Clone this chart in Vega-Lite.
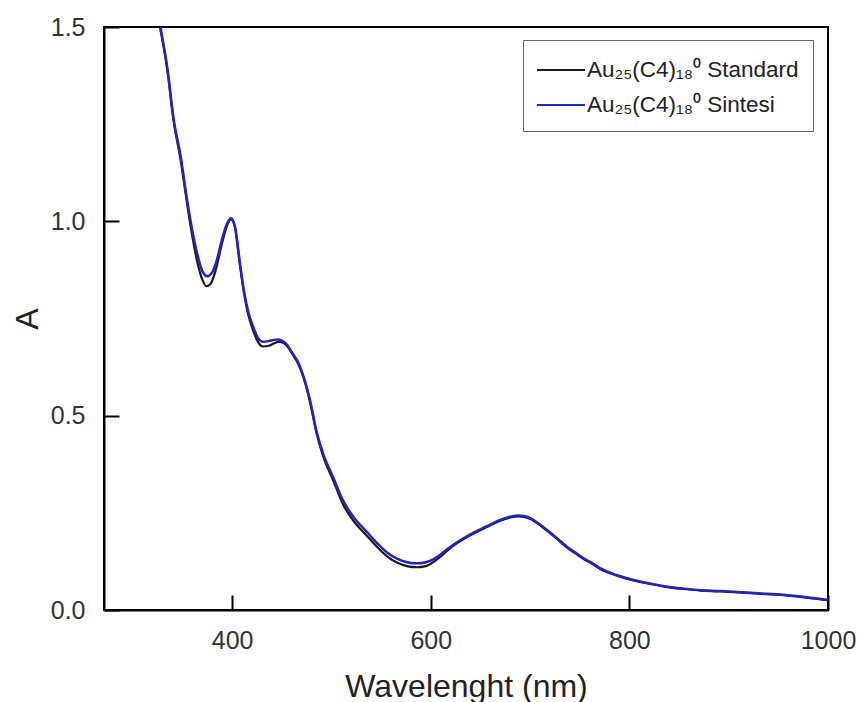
{
  "$schema": "https://vega.github.io/schema/vega-lite/v6.json",
  "width": 724,
  "height": 583,
  "autosize": {"type": "none"},
  "padding": {"left": 104, "top": 27, "right": 29, "bottom": 92},
  "background": "white",
  "config": {
    "font": "Liberation Sans",
    "view": {"stroke": "black", "strokeWidth": 2},
    "axis": {
      "grid": false,
      "domainColor": "black",
      "domainWidth": 2,
      "tickColor": "black",
      "tickWidth": 2,
      "tickSize": -15,
      "labelFontSize": 25,
      "labelColor": "#333333",
      "titleFontSize": 32,
      "titleFontWeight": "normal",
      "titleColor": "#222222",
      "labelFlush": false,
      "labelOverlap": false
    }
  },
  "data": {
    "values": [
      {"wl": 325, "A": 1.53, "s": "Au₂₅(C4)₁₈⁰ Standard"},
      {"wl": 335, "A": 1.385, "s": "Au₂₅(C4)₁₈⁰ Standard"},
      {"wl": 341, "A": 1.26, "s": "Au₂₅(C4)₁₈⁰ Standard"},
      {"wl": 348, "A": 1.16, "s": "Au₂₅(C4)₁₈⁰ Standard"},
      {"wl": 355, "A": 1.04, "s": "Au₂₅(C4)₁₈⁰ Standard"},
      {"wl": 360, "A": 0.96, "s": "Au₂₅(C4)₁₈⁰ Standard"},
      {"wl": 365, "A": 0.895, "s": "Au₂₅(C4)₁₈⁰ Standard"},
      {"wl": 370, "A": 0.85, "s": "Au₂₅(C4)₁₈⁰ Standard"},
      {"wl": 374, "A": 0.833, "s": "Au₂₅(C4)₁₈⁰ Standard"},
      {"wl": 378, "A": 0.838, "s": "Au₂₅(C4)₁₈⁰ Standard"},
      {"wl": 383, "A": 0.87, "s": "Au₂₅(C4)₁₈⁰ Standard"},
      {"wl": 390, "A": 0.945, "s": "Au₂₅(C4)₁₈⁰ Standard"},
      {"wl": 395, "A": 0.99, "s": "Au₂₅(C4)₁₈⁰ Standard"},
      {"wl": 399, "A": 1.005, "s": "Au₂₅(C4)₁₈⁰ Standard"},
      {"wl": 403, "A": 0.982, "s": "Au₂₅(C4)₁₈⁰ Standard"},
      {"wl": 408, "A": 0.885, "s": "Au₂₅(C4)₁₈⁰ Standard"},
      {"wl": 412, "A": 0.815, "s": "Au₂₅(C4)₁₈⁰ Standard"},
      {"wl": 416, "A": 0.762, "s": "Au₂₅(C4)₁₈⁰ Standard"},
      {"wl": 421, "A": 0.72, "s": "Au₂₅(C4)₁₈⁰ Standard"},
      {"wl": 426, "A": 0.69, "s": "Au₂₅(C4)₁₈⁰ Standard"},
      {"wl": 431, "A": 0.678, "s": "Au₂₅(C4)₁₈⁰ Standard"},
      {"wl": 437, "A": 0.68, "s": "Au₂₅(C4)₁₈⁰ Standard"},
      {"wl": 442, "A": 0.686, "s": "Au₂₅(C4)₁₈⁰ Standard"},
      {"wl": 447, "A": 0.69, "s": "Au₂₅(C4)₁₈⁰ Standard"},
      {"wl": 452, "A": 0.687, "s": "Au₂₅(C4)₁₈⁰ Standard"},
      {"wl": 456, "A": 0.677, "s": "Au₂₅(C4)₁₈⁰ Standard"},
      {"wl": 461, "A": 0.657, "s": "Au₂₅(C4)₁₈⁰ Standard"},
      {"wl": 466, "A": 0.636, "s": "Au₂₅(C4)₁₈⁰ Standard"},
      {"wl": 472, "A": 0.597, "s": "Au₂₅(C4)₁₈⁰ Standard"},
      {"wl": 478, "A": 0.54, "s": "Au₂₅(C4)₁₈⁰ Standard"},
      {"wl": 485, "A": 0.455, "s": "Au₂₅(C4)₁₈⁰ Standard"},
      {"wl": 492, "A": 0.393, "s": "Au₂₅(C4)₁₈⁰ Standard"},
      {"wl": 502, "A": 0.332, "s": "Au₂₅(C4)₁₈⁰ Standard"},
      {"wl": 512, "A": 0.27, "s": "Au₂₅(C4)₁₈⁰ Standard"},
      {"wl": 522, "A": 0.23, "s": "Au₂₅(C4)₁₈⁰ Standard"},
      {"wl": 536, "A": 0.19, "s": "Au₂₅(C4)₁₈⁰ Standard"},
      {"wl": 546, "A": 0.162, "s": "Au₂₅(C4)₁₈⁰ Standard"},
      {"wl": 556, "A": 0.138, "s": "Au₂₅(C4)₁₈⁰ Standard"},
      {"wl": 566, "A": 0.122, "s": "Au₂₅(C4)₁₈⁰ Standard"},
      {"wl": 576, "A": 0.113, "s": "Au₂₅(C4)₁₈⁰ Standard"},
      {"wl": 586, "A": 0.11, "s": "Au₂₅(C4)₁₈⁰ Standard"},
      {"wl": 595, "A": 0.113, "s": "Au₂₅(C4)₁₈⁰ Standard"},
      {"wl": 603, "A": 0.124, "s": "Au₂₅(C4)₁₈⁰ Standard"},
      {"wl": 612, "A": 0.142, "s": "Au₂₅(C4)₁₈⁰ Standard"},
      {"wl": 620, "A": 0.16, "s": "Au₂₅(C4)₁₈⁰ Standard"},
      {"wl": 636, "A": 0.187, "s": "Au₂₅(C4)₁₈⁰ Standard"},
      {"wl": 656, "A": 0.213, "s": "Au₂₅(C4)₁₈⁰ Standard"},
      {"wl": 670, "A": 0.23, "s": "Au₂₅(C4)₁₈⁰ Standard"},
      {"wl": 680, "A": 0.238, "s": "Au₂₅(C4)₁₈⁰ Standard"},
      {"wl": 688, "A": 0.241, "s": "Au₂₅(C4)₁₈⁰ Standard"},
      {"wl": 695, "A": 0.239, "s": "Au₂₅(C4)₁₈⁰ Standard"},
      {"wl": 702, "A": 0.232, "s": "Au₂₅(C4)₁₈⁰ Standard"},
      {"wl": 710, "A": 0.218, "s": "Au₂₅(C4)₁₈⁰ Standard"},
      {"wl": 718, "A": 0.202, "s": "Au₂₅(C4)₁₈⁰ Standard"},
      {"wl": 728, "A": 0.181, "s": "Au₂₅(C4)₁₈⁰ Standard"},
      {"wl": 737, "A": 0.161, "s": "Au₂₅(C4)₁₈⁰ Standard"},
      {"wl": 746, "A": 0.145, "s": "Au₂₅(C4)₁₈⁰ Standard"},
      {"wl": 754, "A": 0.131, "s": "Au₂₅(C4)₁₈⁰ Standard"},
      {"wl": 763, "A": 0.118, "s": "Au₂₅(C4)₁₈⁰ Standard"},
      {"wl": 771, "A": 0.105, "s": "Au₂₅(C4)₁₈⁰ Standard"},
      {"wl": 787, "A": 0.089, "s": "Au₂₅(C4)₁₈⁰ Standard"},
      {"wl": 804, "A": 0.076, "s": "Au₂₅(C4)₁₈⁰ Standard"},
      {"wl": 821, "A": 0.067, "s": "Au₂₅(C4)₁₈⁰ Standard"},
      {"wl": 838, "A": 0.059, "s": "Au₂₅(C4)₁₈⁰ Standard"},
      {"wl": 855, "A": 0.054, "s": "Au₂₅(C4)₁₈⁰ Standard"},
      {"wl": 872, "A": 0.05, "s": "Au₂₅(C4)₁₈⁰ Standard"},
      {"wl": 889, "A": 0.048, "s": "Au₂₅(C4)₁₈⁰ Standard"},
      {"wl": 905, "A": 0.046, "s": "Au₂₅(C4)₁₈⁰ Standard"},
      {"wl": 930, "A": 0.042, "s": "Au₂₅(C4)₁₈⁰ Standard"},
      {"wl": 955, "A": 0.038, "s": "Au₂₅(C4)₁₈⁰ Standard"},
      {"wl": 978, "A": 0.032, "s": "Au₂₅(C4)₁₈⁰ Standard"},
      {"wl": 1000, "A": 0.025, "s": "Au₂₅(C4)₁₈⁰ Standard"},

      {"wl": 325, "A": 1.535, "s": "Au₂₅(C4)₁₈⁰ Sintesi"},
      {"wl": 335, "A": 1.39, "s": "Au₂₅(C4)₁₈⁰ Sintesi"},
      {"wl": 341, "A": 1.265, "s": "Au₂₅(C4)₁₈⁰ Sintesi"},
      {"wl": 348, "A": 1.17, "s": "Au₂₅(C4)₁₈⁰ Sintesi"},
      {"wl": 355, "A": 1.05, "s": "Au₂₅(C4)₁₈⁰ Sintesi"},
      {"wl": 360, "A": 0.975, "s": "Au₂₅(C4)₁₈⁰ Sintesi"},
      {"wl": 365, "A": 0.915, "s": "Au₂₅(C4)₁₈⁰ Sintesi"},
      {"wl": 370, "A": 0.872, "s": "Au₂₅(C4)₁₈⁰ Sintesi"},
      {"wl": 375, "A": 0.859, "s": "Au₂₅(C4)₁₈⁰ Sintesi"},
      {"wl": 379, "A": 0.865, "s": "Au₂₅(C4)₁₈⁰ Sintesi"},
      {"wl": 384, "A": 0.895, "s": "Au₂₅(C4)₁₈⁰ Sintesi"},
      {"wl": 390, "A": 0.955, "s": "Au₂₅(C4)₁₈⁰ Sintesi"},
      {"wl": 395, "A": 0.995, "s": "Au₂₅(C4)₁₈⁰ Sintesi"},
      {"wl": 399, "A": 1.008, "s": "Au₂₅(C4)₁₈⁰ Sintesi"},
      {"wl": 403, "A": 0.985, "s": "Au₂₅(C4)₁₈⁰ Sintesi"},
      {"wl": 408, "A": 0.89, "s": "Au₂₅(C4)₁₈⁰ Sintesi"},
      {"wl": 412, "A": 0.82, "s": "Au₂₅(C4)₁₈⁰ Sintesi"},
      {"wl": 416, "A": 0.77, "s": "Au₂₅(C4)₁₈⁰ Sintesi"},
      {"wl": 421, "A": 0.73, "s": "Au₂₅(C4)₁₈⁰ Sintesi"},
      {"wl": 426, "A": 0.70, "s": "Au₂₅(C4)₁₈⁰ Sintesi"},
      {"wl": 431, "A": 0.69, "s": "Au₂₅(C4)₁₈⁰ Sintesi"},
      {"wl": 437, "A": 0.692, "s": "Au₂₅(C4)₁₈⁰ Sintesi"},
      {"wl": 442, "A": 0.695, "s": "Au₂₅(C4)₁₈⁰ Sintesi"},
      {"wl": 447, "A": 0.696, "s": "Au₂₅(C4)₁₈⁰ Sintesi"},
      {"wl": 452, "A": 0.69, "s": "Au₂₅(C4)₁₈⁰ Sintesi"},
      {"wl": 456, "A": 0.68, "s": "Au₂₅(C4)₁₈⁰ Sintesi"},
      {"wl": 461, "A": 0.66, "s": "Au₂₅(C4)₁₈⁰ Sintesi"},
      {"wl": 466, "A": 0.64, "s": "Au₂₅(C4)₁₈⁰ Sintesi"},
      {"wl": 472, "A": 0.60, "s": "Au₂₅(C4)₁₈⁰ Sintesi"},
      {"wl": 478, "A": 0.545, "s": "Au₂₅(C4)₁₈⁰ Sintesi"},
      {"wl": 485, "A": 0.46, "s": "Au₂₅(C4)₁₈⁰ Sintesi"},
      {"wl": 492, "A": 0.40, "s": "Au₂₅(C4)₁₈⁰ Sintesi"},
      {"wl": 502, "A": 0.34, "s": "Au₂₅(C4)₁₈⁰ Sintesi"},
      {"wl": 512, "A": 0.28, "s": "Au₂₅(C4)₁₈⁰ Sintesi"},
      {"wl": 522, "A": 0.24, "s": "Au₂₅(C4)₁₈⁰ Sintesi"},
      {"wl": 536, "A": 0.20, "s": "Au₂₅(C4)₁₈⁰ Sintesi"},
      {"wl": 546, "A": 0.172, "s": "Au₂₅(C4)₁₈⁰ Sintesi"},
      {"wl": 556, "A": 0.148, "s": "Au₂₅(C4)₁₈⁰ Sintesi"},
      {"wl": 566, "A": 0.132, "s": "Au₂₅(C4)₁₈⁰ Sintesi"},
      {"wl": 576, "A": 0.123, "s": "Au₂₅(C4)₁₈⁰ Sintesi"},
      {"wl": 586, "A": 0.12, "s": "Au₂₅(C4)₁₈⁰ Sintesi"},
      {"wl": 595, "A": 0.123, "s": "Au₂₅(C4)₁₈⁰ Sintesi"},
      {"wl": 603, "A": 0.131, "s": "Au₂₅(C4)₁₈⁰ Sintesi"},
      {"wl": 612, "A": 0.147, "s": "Au₂₅(C4)₁₈⁰ Sintesi"},
      {"wl": 620, "A": 0.163, "s": "Au₂₅(C4)₁₈⁰ Sintesi"},
      {"wl": 636, "A": 0.189, "s": "Au₂₅(C4)₁₈⁰ Sintesi"},
      {"wl": 656, "A": 0.215, "s": "Au₂₅(C4)₁₈⁰ Sintesi"},
      {"wl": 670, "A": 0.232, "s": "Au₂₅(C4)₁₈⁰ Sintesi"},
      {"wl": 680, "A": 0.24, "s": "Au₂₅(C4)₁₈⁰ Sintesi"},
      {"wl": 688, "A": 0.243, "s": "Au₂₅(C4)₁₈⁰ Sintesi"},
      {"wl": 695, "A": 0.241, "s": "Au₂₅(C4)₁₈⁰ Sintesi"},
      {"wl": 702, "A": 0.234, "s": "Au₂₅(C4)₁₈⁰ Sintesi"},
      {"wl": 710, "A": 0.22, "s": "Au₂₅(C4)₁₈⁰ Sintesi"},
      {"wl": 718, "A": 0.204, "s": "Au₂₅(C4)₁₈⁰ Sintesi"},
      {"wl": 728, "A": 0.183, "s": "Au₂₅(C4)₁₈⁰ Sintesi"},
      {"wl": 737, "A": 0.163, "s": "Au₂₅(C4)₁₈⁰ Sintesi"},
      {"wl": 746, "A": 0.147, "s": "Au₂₅(C4)₁₈⁰ Sintesi"},
      {"wl": 754, "A": 0.133, "s": "Au₂₅(C4)₁₈⁰ Sintesi"},
      {"wl": 763, "A": 0.12, "s": "Au₂₅(C4)₁₈⁰ Sintesi"},
      {"wl": 771, "A": 0.107, "s": "Au₂₅(C4)₁₈⁰ Sintesi"},
      {"wl": 787, "A": 0.09, "s": "Au₂₅(C4)₁₈⁰ Sintesi"},
      {"wl": 804, "A": 0.077, "s": "Au₂₅(C4)₁₈⁰ Sintesi"},
      {"wl": 821, "A": 0.068, "s": "Au₂₅(C4)₁₈⁰ Sintesi"},
      {"wl": 838, "A": 0.06, "s": "Au₂₅(C4)₁₈⁰ Sintesi"},
      {"wl": 855, "A": 0.055, "s": "Au₂₅(C4)₁₈⁰ Sintesi"},
      {"wl": 872, "A": 0.051, "s": "Au₂₅(C4)₁₈⁰ Sintesi"},
      {"wl": 889, "A": 0.049, "s": "Au₂₅(C4)₁₈⁰ Sintesi"},
      {"wl": 905, "A": 0.047, "s": "Au₂₅(C4)₁₈⁰ Sintesi"},
      {"wl": 930, "A": 0.043, "s": "Au₂₅(C4)₁₈⁰ Sintesi"},
      {"wl": 955, "A": 0.039, "s": "Au₂₅(C4)₁₈⁰ Sintesi"},
      {"wl": 978, "A": 0.033, "s": "Au₂₅(C4)₁₈⁰ Sintesi"},
      {"wl": 1000, "A": 0.026, "s": "Au₂₅(C4)₁₈⁰ Sintesi"}
    ]
  },
  "encoding": {
    "x": {
      "field": "wl",
      "type": "quantitative",
      "scale": {"domain": [271, 1000], "nice": false, "zero": false},
      "axis": {"values": [400, 600, 800, 1000], "format": "d", "title": "Wavelenght (nm)", "labelPadding": 33, "titlePadding": 18}
    },
    "y": {
      "field": "A",
      "type": "quantitative",
      "scale": {"domain": [0, 1.5], "nice": false},
      "axis": {"values": [0, 0.5, 1, 1.5], "format": ".1f", "title": "A", "labelPadding": 34, "titlePadding": 6}
    },
    "color": {
      "field": "s",
      "type": "nominal",
      "scale": {"domain": ["Au₂₅(C4)₁₈⁰ Standard", "Au₂₅(C4)₁₈⁰ Sintesi"], "range": ["#1a1a1a", "#2323c0"]},
      "legend": {
        "title": null,
        "orient": "none",
        "legendX": 419,
        "legendY": 13,
        "symbolType": "M-1.0667,0H2.1333",
        "symbolSize": 900,
        "symbolStrokeWidth": 2,
        "labelFontSize": 22.5,
        "labelColor": "#222222",
        "labelOffset": 18,
        "rowPadding": 7,
        "padding": 14,
        "strokeColor": "#666666",
        "fillColor": "white",
        "labelLimit": 400
      }
    }
  },
  "layer": [
    {
      "transform": [{"filter": "datum.s === 'Au₂₅(C4)₁₈⁰ Standard'"}],
      "mark": {"type": "line", "strokeWidth": 2.2, "clip": true, "interpolate": "monotone"}
    },
    {
      "transform": [{"filter": "datum.s === 'Au₂₅(C4)₁₈⁰ Sintesi'"}],
      "mark": {"type": "line", "strokeWidth": 2.5, "clip": true, "interpolate": "monotone"}
    }
  ]
}
